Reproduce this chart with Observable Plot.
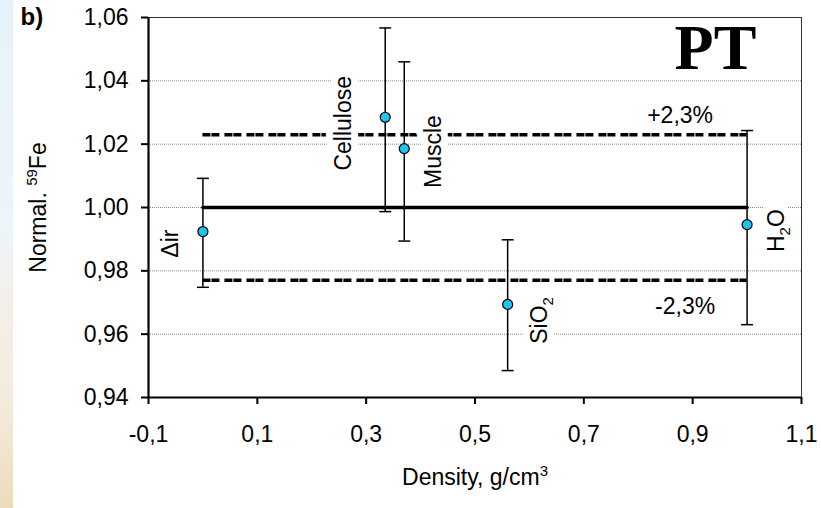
<!DOCTYPE html>
<html>
<head>
<meta charset="utf-8">
<script src="https://cdn.jsdelivr.net/npm/d3@7"></script>
<script src="https://cdn.jsdelivr.net/npm/@observablehq/plot@0.6"></script>
<style>
  html, body { margin: 0; padding: 0; }
  body {
    width: 821px; height: 508px; overflow: hidden;
    background-color: #fff;
    background-image: linear-gradient(to bottom, #e6f2f9 0%, #edf5fa 45%, #f4eee6 62%, #f3ebdc 80%, #ecdcbc 100%);
    background-size: 13px 508px;
    background-repeat: no-repeat;
    font-family: "Liberation Sans", Arial, sans-serif;
  }
</style>
</head>
<body>
<div id="chart"></div>
<script>
// ---- data ----
const materials = ["Air", "Cellulose", "Muscle", "SiO2", "H2O"];
const materialLabels = ["Δir", "Cellulose", "Muscle", "SiO2", "H2O"];
const density = [0.0, 0.335, 0.37, 0.56, 1.0];          // g/cm3
const normalFe = [0.9924, 1.0285, 1.0186, 0.9694, 0.9946];
const errLow = [0.9748, 0.9987, 0.9894, 0.9485, 0.9630];
const errHigh = [1.0092, 1.0567, 1.0460, 0.9898, 1.0243];

const refLevel = 1.00;
const bandLevels = [1.023, 0.977];
const bandLabels = ["+2,3%", "-2,3%"];
const refRange = [0.0, 1.0];

const xTicks = [-0.1, 0.1, 0.3, 0.5, 0.7, 0.9, 1.1];
const yTicks = [0.94, 0.96, 0.98, 1.00, 1.02, 1.04, 1.06];

// ---- tables built from the arrays ----
const points = materials.map((m, i) => ({
  material: m, label: materialLabels[i], x: density[i], y: normalFe[i], lo: errLow[i], hi: errHigh[i]
}));
const refLine = refRange.map(x => ({x, y: refLevel}));
const bands = bandLevels.map((lvl, i) => ({level: lvl, label: bandLabels[i], x1: refRange[0], x2: refRange[1]}));

const fmtX = d => d.toFixed(1).replace(".", ",");
const fmtY = d => d.toFixed(2).replace(".", ",");

// horizontal cap symbol for error bars
const capSymbol = {
  draw(ctx, size) {
    const r = Math.sqrt(size / Math.PI);
    ctx.moveTo(-r, 0); ctx.lineTo(r, 0);
  }
};

const labelOffsets = {
  "Air": [-32, 12],
  "Cellulose": [-42, 6],
  "Muscle": [29, 3],
  "SiO2": [32, 16],
  "H2O": [30, 6]
};
// white box-like halo first, then the black text
const labelMarks = (name) => {
  const [dx, dy] = labelOffsets[name];
  const data = points.filter(d => d.material === name);
  const common = {x: "x", y: "y", text: "label", rotate: -90, dx, dy, fontSize: 23,
    textAnchor: "middle", lineAnchor: "middle"};
  return [
    Plot.text(data, {...common, fill: "white", stroke: "white", strokeWidth: 14, strokeLinejoin: "round"}),
    Plot.text(data, {...common, fill: "black"})
  ];
};
const bandLabelMark = (i, dx, dy) =>
  Plot.text([bands[i]], {x: "x2", y: "level", text: "label", fontSize: 23, textAnchor: "middle",
    lineAnchor: "middle", dx, dy, fill: "black"});

const chart = Plot.plot({
  width: 821,
  height: 508,
  marginLeft: 148,
  marginRight: 20,
  marginTop: 17,
  marginBottom: 111,
  style: {background: "transparent", fontFamily: "'Liberation Sans', Arial, sans-serif", fontSize: "23px", color: "black"},
  x: {domain: [-0.1, 1.1], ticks: xTicks, tickFormat: fmtX, tickSize: 7, tickPadding: 21, label: null},
  y: {domain: [0.94, 1.06], ticks: yTicks, tickFormat: fmtY, tickSize: 7, tickPadding: 13, label: null},
  marks: [
    // gridlines
    Plot.ruleY(yTicks.slice(1, -1), {stroke: "#8a8a8a", strokeWidth: 1, strokeDasharray: "1,1"}),
    // labels under the reference lines
    ...labelMarks("Air"), ...labelMarks("SiO2"), ...labelMarks("H2O"),
    // reference level and ±2.3 % band
    Plot.line(refLine, {x: "x", y: "y", stroke: "black", strokeWidth: 3.5}),
    Plot.ruleY(bands, {y: "level", x1: "x1", x2: "x2", stroke: "black", strokeWidth: 3.5, strokeDasharray: "8,1,8,5"}),
    ...labelMarks("Cellulose"), ...labelMarks("Muscle"),
    bandLabelMark(0, -67, -19),
    bandLabelMark(1, -62, 26),
    // error bars
    Plot.ruleX(points, {x: "x", y1: "lo", y2: "hi", stroke: "black", strokeWidth: 1.5}),
    Plot.dot(points, {x: "x", y: "lo", symbol: capSymbol, r: 6, stroke: "black", strokeWidth: 1.5, fill: "none"}),
    Plot.dot(points, {x: "x", y: "hi", symbol: capSymbol, r: 6, stroke: "black", strokeWidth: 1.5, fill: "none"}),
    // points
    Plot.dot(points, {x: "x", y: "y", r: 5, fill: "#1ec3ee", stroke: "black", strokeWidth: 1.2}),
    // frame & axis lines
    Plot.frame({stroke: "#333", strokeWidth: 1}),
    Plot.ruleX([-0.1], {stroke: "black", strokeWidth: 2.2}),
    Plot.ruleY([0.94], {stroke: "black", strokeWidth: 2.2}),
    Plot.axisX({ticks: xTicks, tickFormat: fmtX, tickSize: 7, tickPadding: 21, strokeWidth: 2, fontSize: 23, label: null}),
    Plot.axisY({ticks: yTicks, tickFormat: fmtY, tickSize: 7, tickPadding: 13, strokeWidth: 2, fontSize: 23, label: null}),
    // titles
    Plot.text(["PT"], {frameAnchor: "top-right", dx: -86, dy: 31, textAnchor: "middle", lineAnchor: "middle",
      fontSize: 64, fontWeight: "bold", fontFamily: "'Liberation Serif', 'Times New Roman', serif"}),
    Plot.text(["b)"], {frameAnchor: "top-left", dx: -128, dy: -10, textAnchor: "start", lineAnchor: "top",
      fontSize: 24, fontWeight: "bold"}),
    Plot.text(["Normal. 59Fe"], {frameAnchor: "left", dx: -110, dy: 0, rotate: -90, textAnchor: "middle",
      lineAnchor: "middle", fontSize: 23}),
    Plot.text(["Density, g/cm3"], {frameAnchor: "bottom", dx: 0, dy: 80, textAnchor: "middle",
      lineAnchor: "middle", fontSize: 23})
  ]
});

// sub/superscripts
function rich(el, parts) {
  const sel = d3.select(el);
  sel.text(null);
  for (const [txt, kind] of parts) {
    const ts = sel.append("tspan").text(txt);
    if (kind === "sub") ts.attr("font-size", "15px").attr("dy", "6px");
    else if (kind === "sup") ts.attr("font-size", "15px").attr("dy", "-9px");
    else if (kind === "afterSub") ts.attr("dy", "-6px");
    else if (kind === "afterSup") ts.attr("dy", "9px");
  }
}
d3.select(chart).selectAll("text").each(function () {
  const t = this.textContent;
  if (t === "H2O") rich(this, [["H"], ["2", "sub"], ["O", "afterSub"]]);
  else if (t === "SiO2") rich(this, [["SiO"], ["2", "sub"]]);
  else if (t === "Normal. 59Fe") rich(this, [["Normal. "], ["59", "sup"], ["Fe", "afterSup"]]);
  else if (t === "Density, g/cm3") rich(this, [["Density, g/cm"], ["3", "sup"]]);
});

document.getElementById("chart").appendChild(chart);
</script>
</body>
</html>
